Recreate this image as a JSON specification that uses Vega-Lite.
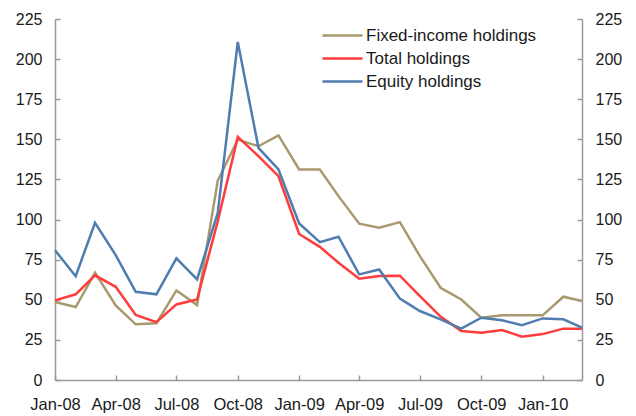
{
  "$schema": "https://vega.github.io/schema/vega-lite/v6.json",
  "width": 527,
  "height": 361,
  "autosize": {"type": "none"},
  "padding": {"left": 55, "top": 19, "right": 54, "bottom": 36},
  "background": "white",
  "config": {
    "view": {"stroke": null},
    "font": "Liberation Sans",
    "axis": {
      "labelFont": "Liberation Sans",
      "labelFontSize": 16,
      "labelColor": "#1a1a1a",
      "domainColor": "#999999",
      "domainWidth": 1.5,
      "tickColor": "#999999",
      "tickWidth": 1.5,
      "grid": false,
      "title": null
    }
  },
  "datasets": {
    "holdings": [
      {"date": "2008-01-01", "series": "Fixed-income holdings", "value": 48.6},
      {"date": "2008-02-01", "series": "Fixed-income holdings", "value": 45.5},
      {"date": "2008-03-01", "series": "Fixed-income holdings", "value": 66.9},
      {"date": "2008-04-01", "series": "Fixed-income holdings", "value": 46.5},
      {"date": "2008-05-01", "series": "Fixed-income holdings", "value": 34.7},
      {"date": "2008-06-01", "series": "Fixed-income holdings", "value": 35.3},
      {"date": "2008-07-01", "series": "Fixed-income holdings", "value": 55.8},
      {"date": "2008-08-01", "series": "Fixed-income holdings", "value": 46.7},
      {"date": "2008-09-01", "series": "Fixed-income holdings", "value": 124.3},
      {"date": "2008-10-01", "series": "Fixed-income holdings", "value": 149.8},
      {"date": "2008-11-01", "series": "Fixed-income holdings", "value": 145.7},
      {"date": "2008-12-01", "series": "Fixed-income holdings", "value": 152.5},
      {"date": "2009-01-01", "series": "Fixed-income holdings", "value": 131.2},
      {"date": "2009-02-01", "series": "Fixed-income holdings", "value": 131.2},
      {"date": "2009-03-01", "series": "Fixed-income holdings", "value": 114.6},
      {"date": "2009-04-01", "series": "Fixed-income holdings", "value": 97.4},
      {"date": "2009-05-01", "series": "Fixed-income holdings", "value": 94.9},
      {"date": "2009-06-01", "series": "Fixed-income holdings", "value": 98.4},
      {"date": "2009-07-01", "series": "Fixed-income holdings", "value": 77.2},
      {"date": "2009-08-01", "series": "Fixed-income holdings", "value": 57.5},
      {"date": "2009-09-01", "series": "Fixed-income holdings", "value": 50.2},
      {"date": "2009-10-01", "series": "Fixed-income holdings", "value": 38.8},
      {"date": "2009-11-01", "series": "Fixed-income holdings", "value": 40.3},
      {"date": "2009-12-01", "series": "Fixed-income holdings", "value": 40.3},
      {"date": "2010-01-01", "series": "Fixed-income holdings", "value": 40.3},
      {"date": "2010-02-01", "series": "Fixed-income holdings", "value": 51.9},
      {"date": "2010-03-01", "series": "Fixed-income holdings", "value": 49.2},
      {"date": "2008-01-01", "series": "Total holdings", "value": 49.6},
      {"date": "2008-02-01", "series": "Total holdings", "value": 53.4},
      {"date": "2008-03-01", "series": "Total holdings", "value": 65.2},
      {"date": "2008-04-01", "series": "Total holdings", "value": 58.1},
      {"date": "2008-05-01", "series": "Total holdings", "value": 40.5},
      {"date": "2008-06-01", "series": "Total holdings", "value": 36.1},
      {"date": "2008-07-01", "series": "Total holdings", "value": 47.1},
      {"date": "2008-08-01", "series": "Total holdings", "value": 50.2},
      {"date": "2008-09-01", "series": "Total holdings", "value": 99.0},
      {"date": "2008-10-01", "series": "Total holdings", "value": 151.5},
      {"date": "2008-11-01", "series": "Total holdings", "value": 139.5},
      {"date": "2008-12-01", "series": "Total holdings", "value": 127.0},
      {"date": "2009-01-01", "series": "Total holdings", "value": 91.0},
      {"date": "2009-02-01", "series": "Total holdings", "value": 83.0},
      {"date": "2009-03-01", "series": "Total holdings", "value": 73.1},
      {"date": "2009-04-01", "series": "Total holdings", "value": 63.1},
      {"date": "2009-05-01", "series": "Total holdings", "value": 64.8},
      {"date": "2009-06-01", "series": "Total holdings", "value": 65.0},
      {"date": "2009-07-01", "series": "Total holdings", "value": 52.3},
      {"date": "2009-08-01", "series": "Total holdings", "value": 39.5},
      {"date": "2009-09-01", "series": "Total holdings", "value": 30.5},
      {"date": "2009-10-01", "series": "Total holdings", "value": 29.5},
      {"date": "2009-11-01", "series": "Total holdings", "value": 31.2},
      {"date": "2009-12-01", "series": "Total holdings", "value": 27.0},
      {"date": "2010-01-01", "series": "Total holdings", "value": 28.6},
      {"date": "2010-02-01", "series": "Total holdings", "value": 32.0},
      {"date": "2010-03-01", "series": "Total holdings", "value": 32.0},
      {"date": "2008-01-01", "series": "Equity holdings", "value": 80.9},
      {"date": "2008-02-01", "series": "Equity holdings", "value": 64.7},
      {"date": "2008-03-01", "series": "Equity holdings", "value": 98.0},
      {"date": "2008-04-01", "series": "Equity holdings", "value": 77.8},
      {"date": "2008-05-01", "series": "Equity holdings", "value": 55.0},
      {"date": "2008-06-01", "series": "Equity holdings", "value": 53.4},
      {"date": "2008-07-01", "series": "Equity holdings", "value": 75.8},
      {"date": "2008-08-01", "series": "Equity holdings", "value": 62.7},
      {"date": "2008-09-01", "series": "Equity holdings", "value": 104.2},
      {"date": "2008-10-01", "series": "Equity holdings", "value": 210.7},
      {"date": "2008-11-01", "series": "Equity holdings", "value": 144.7},
      {"date": "2008-12-01", "series": "Equity holdings", "value": 131.2},
      {"date": "2009-01-01", "series": "Equity holdings", "value": 97.6},
      {"date": "2009-02-01", "series": "Equity holdings", "value": 85.9},
      {"date": "2009-03-01", "series": "Equity holdings", "value": 89.3},
      {"date": "2009-04-01", "series": "Equity holdings", "value": 65.8},
      {"date": "2009-05-01", "series": "Equity holdings", "value": 68.9},
      {"date": "2009-06-01", "series": "Equity holdings", "value": 50.7},
      {"date": "2009-07-01", "series": "Equity holdings", "value": 43.0},
      {"date": "2009-08-01", "series": "Equity holdings", "value": 37.8},
      {"date": "2009-09-01", "series": "Equity holdings", "value": 32.0},
      {"date": "2009-10-01", "series": "Equity holdings", "value": 38.8},
      {"date": "2009-11-01", "series": "Equity holdings", "value": 37.2},
      {"date": "2009-12-01", "series": "Equity holdings", "value": 34.2},
      {"date": "2010-01-01", "series": "Equity holdings", "value": 38.4},
      {"date": "2010-02-01", "series": "Equity holdings", "value": 37.8},
      {"date": "2010-03-01", "series": "Equity holdings", "value": 32.6}
    ]
  },
  "data": {"name": "holdings"},
  "encoding": {
    "x": {
      "field": "date",
      "type": "temporal",
      "scale": {
        "type": "utc",
        "domain": [
          {"year": 2008, "month": 1, "date": 1, "utc": true},
          {"year": 2010, "month": 3, "date": 1, "utc": true}
        ]
      },
      "axis": {
        "labelExpr": "utcFormat(datum.value, '%b-%y')",
        "tickCount": {"interval": "month", "step": 3},
        "tickSize": -5,
        "labelPadding": 21,
        "labelFontSize": 16.5,
        "labelFlush": false,
        "labelOverlap": false
      }
    }
  },
  "layer": [
    {
      "mark": {"type": "line", "strokeWidth": 2.5, "strokeJoin": "miter", "strokeCap": "butt"},
      "encoding": {
        "y": {
          "field": "value",
          "type": "quantitative",
          "scale": {"domain": [0, 225], "nice": false},
          "axis": {
            "orient": "left",
            "values": [0, 25, 50, 75, 100, 125, 150, 175, 200, 225],
            "tickSize": -5,
            "labelPadding": 18
          }
        },
        "color": {
          "field": "series",
          "type": "nominal",
          "sort": ["Fixed-income holdings", "Total holdings", "Equity holdings"],
          "scale": {
            "domain": ["Fixed-income holdings", "Total holdings", "Equity holdings"],
            "range": ["#A8996F", "#FF3B3B", "#4F7DAF"]
          },
          "legend": {
            "title": null,
            "orient": "none",
            "legendX": 276,
            "legendY": 5,
            "padding": 0,
            "symbolType": "M-2,0H2",
            "symbolSize": 400,
            "symbolStrokeWidth": 2.5,
            "labelOffset": 12,
            "rowPadding": 3,
            "labelFont": "Liberation Sans",
            "labelFontSize": 17,
            "labelColor": "#1a1a1a",
            "labelLimit": 300
          }
        }
      }
    },
    {
      "mark": {"type": "point", "opacity": 0},
      "encoding": {
        "y": {
          "field": "value",
          "type": "quantitative",
          "axis": {
            "orient": "right",
            "values": [0, 25, 50, 75, 100, 125, 150, 175, 200, 225],
            "tickSize": -5,
            "labelPadding": 18
          }
        }
      }
    }
  ],
  "resolve": {"axis": {"y": "independent"}}
}
